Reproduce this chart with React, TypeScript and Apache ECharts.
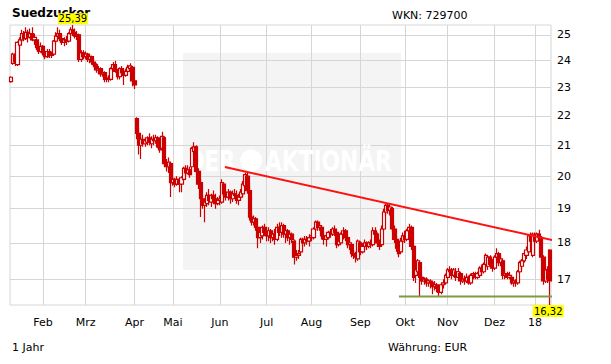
import React, { useEffect, useRef } from "react";
import * as echarts from "echarts";

// ---------- data ----------
const title = "Suedzucker";
const wkn = "WKN: 729700";
const period = "1 Jahr";
const currency = "Währung: EUR";

const monthLabels = ["Jan", "Feb", "Mrz", "Apr", "Mai", "Jun", "Jul", "Aug", "Sep", "Okt", "Nov", "Dez", "18"];
const tradingDays = [15, 20, 23, 18, 22, 22, 21, 23, 21, 20, 22, 19, 8];
const yTicks = [17, 18, 19, 20, 21, 22, 23, 24, 25];

// [open, close, low, high]
const ohlc: number[][] = [
  [23.22, 23.38, 23.18, 23.42], [23.9, 24.25, 23.85, 24.3], [24.2, 23.95, 23.8, 24.3], [23.85, 24.7, 23.8, 24.75],
  [24.6, 24.8, 24.45, 24.9], [24.8, 25.05, 24.7, 25.2], [25.0, 24.85, 24.75, 25.15], [24.85, 25.1, 24.8, 25.3],
  [25.1, 24.9, 24.7, 25.2], [24.9, 25.05, 24.85, 25.25], [25.05, 24.8, 24.75, 25.3], [24.8, 24.9, 24.6, 25.05],
  [24.8, 24.5, 24.4, 24.85], [24.5, 24.35, 24.25, 24.65], [24.35, 24.55, 24.3, 24.7],
  // Feb
  [24.55, 24.3, 24.2, 24.6], [24.3, 24.15, 24.05, 24.4], [24.15, 24.35, 24.1, 24.45], [24.35, 24.2, 24.1, 24.45],
  [24.2, 24.25, 24.1, 24.35], [24.25, 24.75, 24.2, 24.8], [24.75, 24.95, 24.65, 25.1], [24.95, 25.05, 24.8, 25.3],
  [25.05, 24.85, 24.75, 25.2], [24.85, 24.7, 24.6, 25.0], [24.7, 24.8, 24.55, 24.9], [24.8, 24.75, 24.6, 24.95],
  [24.75, 25.05, 24.7, 25.1], [25.05, 25.2, 25.0, 25.3], [25.2, 25.1, 24.95, 25.39], [25.1, 24.95, 24.85, 25.25],
  [24.95, 25.0, 24.8, 25.15], [25.0, 24.05, 23.95, 25.05], [24.05, 24.3, 23.95, 24.4], [24.3, 24.15, 24.05, 24.4],
  // Mrz
  [24.15, 24.25, 24.05, 24.35], [24.25, 24.05, 23.95, 24.3], [24.05, 24.15, 23.9, 24.25], [24.15, 23.95, 23.85, 24.2],
  [23.95, 23.85, 23.75, 24.05], [23.85, 23.65, 23.55, 23.9], [23.65, 23.7, 23.5, 23.8], [23.7, 23.5, 23.4, 23.75],
  [23.5, 23.55, 23.4, 23.65], [23.55, 23.3, 23.2, 23.6], [23.3, 23.35, 23.2, 23.45], [23.35, 23.3, 23.2, 23.45],
  [23.3, 23.7, 23.25, 23.75], [23.7, 23.85, 23.6, 23.95], [23.85, 23.6, 23.55, 24.0], [23.6, 23.4, 23.3, 23.7],
  [23.4, 23.7, 23.3, 23.75], [23.7, 23.55, 23.45, 23.8], [23.55, 23.45, 23.1, 23.65], [23.45, 23.6, 23.4, 23.7],
  [23.6, 23.75, 23.55, 23.85], [23.7, 23.8, 23.6, 23.9], [23.75, 23.25, 23.05, 23.8],
  // Apr
  [23.25, 23.1, 22.95, 23.3], [21.9, 21.4, 21.2, 21.95], [21.4, 21.0, 20.7, 21.6], [21.0, 21.2, 20.55, 21.3],
  [21.2, 21.05, 20.95, 21.35], [21.05, 21.15, 20.95, 21.25], [21.1, 21.25, 21.0, 21.3], [21.25, 21.1, 21.0, 21.4],
  [21.05, 21.2, 20.9, 21.3], [21.2, 21.15, 21.0, 21.35], [21.15, 21.25, 21.05, 21.35], [21.25, 20.95, 20.9, 21.3],
  [20.95, 20.85, 20.75, 21.05], [20.9, 21.3, 20.85, 21.45], [21.25, 20.4, 20.3, 21.3], [20.4, 20.3, 20.15, 20.55],
  [20.3, 20.45, 20.1, 20.6], [20.4, 19.8, 19.35, 20.45],
  // Mai
  [19.8, 19.9, 19.7, 20.0], [19.9, 19.75, 19.65, 19.95], [19.75, 19.9, 19.7, 20.0], [19.9, 19.75, 19.5, 19.95],
  [19.75, 19.95, 19.5, 20.0], [19.9, 20.25, 19.85, 20.3], [20.25, 20.1, 20.0, 20.35], [20.1, 20.2, 20.05, 20.35],
  [20.2, 20.05, 19.95, 20.3], [20.3, 20.9, 20.2, 20.95], [20.8, 20.95, 20.7, 21.1], [20.95, 20.15, 20.05, 21.0],
  [20.15, 19.75, 19.6, 20.25], [19.8, 19.3, 18.75, 19.9], [19.3, 19.1, 19.0, 19.4], [19.1, 19.2, 18.6, 19.3],
  [19.15, 19.4, 19.05, 19.5], [19.4, 19.25, 19.1, 19.6], [19.2, 19.4, 19.05, 19.45], [19.4, 19.3, 19.2, 19.55],
  [19.3, 19.15, 19.0, 19.45], [19.15, 19.25, 19.1, 19.35],
  // Jun
  [19.25, 19.3, 19.1, 19.4], [19.2, 19.8, 19.15, 19.9], [19.75, 19.45, 19.35, 19.8], [19.45, 19.35, 19.25, 19.55],
  [19.35, 19.5, 19.25, 19.6], [19.5, 19.3, 19.15, 19.55], [19.3, 19.45, 19.2, 19.55], [19.45, 19.4, 19.3, 19.6],
  [19.4, 19.25, 19.15, 19.55], [19.25, 19.35, 19.1, 19.45], [19.35, 19.5, 19.25, 19.6], [19.45, 19.75, 19.35, 19.85],
  [19.7, 20.05, 19.65, 20.12], [20.0, 19.55, 19.45, 20.1], [19.55, 18.75, 18.65, 19.7], [18.75, 18.6, 18.5, 18.85],
  [18.6, 18.7, 18.5, 18.8], [18.7, 18.45, 18.35, 18.75], [18.45, 18.15, 17.85, 18.5], [18.15, 18.3, 18.0, 18.4],
  [18.2, 18.45, 18.1, 18.5], [18.45, 18.3, 18.2, 18.55],
  // Jul
  [18.3, 18.2, 18.05, 18.45], [18.2, 18.35, 18.05, 18.45], [18.35, 18.15, 18.0, 18.4], [18.15, 18.25, 18.05, 18.35],
  [18.25, 18.1, 17.95, 18.4], [18.1, 18.45, 18.05, 18.55], [18.45, 18.3, 18.2, 18.6], [18.3, 18.5, 18.15, 18.6],
  [18.5, 18.25, 18.15, 18.55], [18.25, 18.35, 18.0, 18.45], [18.35, 18.15, 18.05, 18.4], [18.15, 18.25, 17.95, 18.3],
  [18.25, 18.1, 18.0, 18.3], [18.05, 17.6, 17.4, 18.1], [17.6, 17.65, 17.5, 17.8], [17.65, 17.7, 17.55, 17.8],
  [17.75, 18.1, 17.7, 18.15], [18.1, 18.0, 17.9, 18.15], [18.0, 18.1, 17.9, 18.2], [18.1, 18.05, 17.95, 18.2],
  [18.05, 18.15, 17.9, 18.25],
  // Aug
  [18.15, 18.2, 18.05, 18.3], [18.15, 18.4, 18.1, 18.45], [18.4, 18.6, 18.35, 18.65], [18.6, 18.45, 18.35, 18.65],
  [18.45, 18.5, 18.35, 18.6], [18.45, 18.2, 18.1, 18.5], [18.2, 18.1, 17.95, 18.3], [18.1, 18.2, 17.9, 18.25],
  [18.15, 18.3, 18.1, 18.35], [18.3, 18.25, 18.15, 18.4], [18.25, 18.4, 18.2, 18.45], [18.4, 18.3, 18.2, 18.5],
  [18.3, 17.95, 17.85, 18.35], [17.95, 18.05, 17.9, 18.15], [18.0, 18.25, 17.95, 18.3], [18.25, 18.35, 18.1, 18.45],
  [18.35, 18.15, 18.05, 18.4], [18.15, 17.95, 17.85, 18.2], [17.95, 18.0, 17.8, 18.1], [17.95, 17.7, 17.6, 18.0],
  [17.7, 17.65, 17.55, 17.8], [17.65, 17.6, 17.45, 17.75], [17.55, 18.05, 17.5, 18.1],
  // Sep
  [18.0, 17.75, 17.65, 18.05], [17.75, 17.9, 17.7, 18.0], [17.9, 18.0, 17.8, 18.1], [18.0, 17.9, 17.8, 18.05],
  [17.9, 18.0, 17.85, 18.05], [18.0, 17.95, 17.85, 18.1], [17.95, 18.35, 17.9, 18.45], [18.35, 18.25, 18.15, 18.45],
  [18.25, 18.0, 17.9, 18.3], [18.0, 17.9, 17.8, 18.1], [17.95, 18.4, 17.9, 18.5], [18.4, 18.9, 18.35, 19.0],
  [18.9, 19.1, 18.8, 19.15], [19.1, 18.95, 18.85, 19.17], [18.95, 19.05, 18.8, 19.15], [19.0, 18.4, 18.3, 19.05],
  [18.4, 18.1, 18.0, 18.5], [18.1, 17.85, 17.75, 18.2], [17.85, 17.7, 17.6, 17.95], [17.75, 18.05, 17.7, 18.15],
  [18.05, 18.2, 18.0, 18.3],
  // Okt
  [18.2, 18.1, 18.0, 18.35], [18.1, 18.35, 18.05, 18.4], [18.35, 18.45, 18.25, 18.55], [18.45, 17.9, 17.8, 18.5],
  [17.9, 17.05, 16.95, 17.95], [17.1, 17.25, 16.9, 17.5], [17.2, 17.5, 17.1, 17.55], [17.45, 17.05, 16.55, 17.5],
  [17.05, 16.95, 16.85, 17.15], [16.95, 17.0, 16.85, 17.05], [17.0, 16.9, 16.8, 17.05], [16.9, 16.95, 16.8, 17.0],
  [16.95, 16.9, 16.75, 17.0], [16.9, 16.8, 16.6, 16.95], [16.8, 16.85, 16.7, 16.95], [16.85, 16.75, 16.65, 16.9],
  [16.75, 16.65, 16.55, 16.8], [16.65, 16.85, 16.6, 16.9], [16.85, 16.9, 16.75, 17.0], [16.9, 17.1, 16.85, 17.15],
  // Nov
  [17.05, 17.25, 17.0, 17.3], [17.25, 17.2, 17.1, 17.35], [17.2, 17.1, 17.0, 17.3], [17.1, 17.25, 17.05, 17.3],
  [17.2, 17.05, 16.95, 17.3], [17.05, 17.2, 17.0, 17.3], [17.15, 16.95, 16.85, 17.2], [16.95, 17.0, 16.9, 17.05],
  [17.0, 16.95, 16.85, 17.1], [16.95, 17.05, 16.9, 17.15], [17.05, 16.9, 16.85, 17.1], [16.9, 17.1, 16.85, 17.15],
  [17.1, 17.15, 17.0, 17.2], [17.15, 17.05, 17.0, 17.2], [17.05, 17.15, 17.0, 17.2], [17.1, 17.3, 17.05, 17.35],
  [17.3, 17.2, 17.1, 17.4], [17.2, 17.4, 17.15, 17.45], [17.4, 17.65, 17.3, 17.7], [17.35, 17.6, 17.25, 17.65],
  [17.6, 17.4, 17.3, 17.65], [17.4, 17.3, 17.2, 17.55],
  // Dez
  [17.3, 17.6, 17.25, 17.65], [17.6, 17.7, 17.5, 17.85], [17.7, 17.45, 17.35, 17.75], [17.45, 17.55, 17.35, 17.65],
  [17.5, 17.1, 17.0, 17.55], [17.1, 17.15, 17.0, 17.25], [17.15, 17.05, 17.0, 17.2], [17.05, 17.1, 17.0, 17.2],
  [17.05, 16.9, 16.85, 17.1], [16.9, 16.95, 16.8, 17.0], [16.95, 16.9, 16.8, 17.0], [16.9, 17.2, 16.85, 17.25],
  [17.2, 17.45, 17.15, 17.5], [17.35, 17.5, 17.25, 17.55], [17.5, 17.7, 17.45, 17.75], [17.65, 17.8, 17.55, 17.9],
  [17.75, 18.2, 17.7, 18.25], [18.2, 18.05, 17.9, 18.3], [17.65, 18.25, 17.6, 18.3],
  // Jan 18
  [18.2, 18.05, 17.95, 18.3], [18.05, 18.25, 18.0, 18.3], [18.25, 18.15, 18.05, 18.38], [18.15, 17.6, 17.5, 18.2],
  [17.6, 16.95, 16.85, 17.65], [16.95, 17.25, 16.9, 17.3], [17.25, 17.0, 16.9, 17.35], [17.8, 16.95, 16.32, 17.82],
];

// trend lines drawn on the chart: [day index, price]
const resistanceLine = [[100.4, 20.29], [256.3, 18.05]];
const supportLine = [[182.1, 16.54], [256.3, 16.54]];

// ---------- derived ----------
const categories: string[] = [];
const monthStarts: number[] = [];
monthLabels.forEach((m, mi) => {
  for (let k = 0; k < tradingDays[mi]; k++) {
    if (k === 0 && mi > 0) monthStarts.push(categories.length);
    categories.push(`${m}-${k}`);
  }
});

const lows = ohlc.map((d) => d[2]);
const highs = ohlc.map((d) => d[3]);
const lowMin = Math.min(...lows);
const highMax = Math.max(...highs);
const minIdx = lows.indexOf(lowMin);
const maxIdx = highs.indexOf(highMax);
const fmt = (v: number) => v.toFixed(2).replace(".", ",");

const FONT = '"DejaVu Sans", Verdana, sans-serif';
const GRID_COLOR = "#d6d6d6";
const CANDLE = "#cc0000";

export default function App() {
  const ref = useRef<HTMLDivElement>(null);

  useEffect(() => {
    if (!ref.current) return;
    const chart = echarts.init(ref.current, undefined, { renderer: "svg" });

    const gridLines: any[] = [
      ...yTicks.map((t) => ({ yAxis: t, name: String(t) })),
      ...monthStarts.map((idx) => ({ xAxis: categories[idx], name: "", label: { show: false } })),
    ];

    const wmFont = 'bold 29px "DejaVu Sans", sans-serif';

    chart.setOption({
      animation: false,
      backgroundColor: "#ffffff",
      grid: {
        left: 10,
        right: 60,
        top: 25,
        bottom: 59,
        show: true,
        borderColor: GRID_COLOR,
        borderWidth: 1,
        backgroundColor: "transparent",
      },
      xAxis: [
        {
          type: "category",
          data: categories,
          boundaryGap: true,
          axisLine: { show: false },
          axisTick: { show: false },
          splitLine: { show: false },
          axisLabel: {
            interval: (idx: number) => monthStarts.includes(idx),
            formatter: (v: string) => v.split("-")[0],
            color: "#000",
            fontSize: 11,
            fontFamily: FONT,
            margin: 12,
          },
        },
        {
          type: "value",
          min: -0.5,
          max: categories.length - 0.5,
          show: false,
        },
      ],
      yAxis: {
        type: "log",
        logBase: 10,
        min: lowMin,
        max: highMax,
        axisLine: { show: false },
        axisTick: { show: false },
        axisLabel: { show: false },
        splitLine: { show: false },
      },
      graphic: [
        { type: "rect", shape: { x: 183, y: 53, width: 218, height: 217 }, style: { fill: "#f4f4f4" }, z: 0, silent: true },
        { type: "text", x: 187, y: 161, scaleX: 0.73, style: { text: "DER", font: wmFont, fill: "#ffffff", verticalAlign: "middle" }, z: 1.5, silent: true },
        { type: "circle", shape: { cx: 251, cy: 160.5, r: 11 }, style: { fill: "#ffffff" }, z: 1.5, silent: true },
        { type: "text", x: 265, y: 161, scaleX: 0.75, style: { text: "AKTIONÄR", font: wmFont, fill: "#ffffff", verticalAlign: "middle" }, z: 1.5, silent: true },
        { type: "text", x: 12, y: 13, style: { text: title, font: `bold 12px ${FONT}`, fill: "#000", verticalAlign: "middle" }, z: 3 },
        { type: "text", x: 392, y: 15, style: { text: wkn, font: `11px ${FONT}`, fill: "#000", verticalAlign: "middle" }, z: 3 },
        { type: "text", x: 12, y: 347.5, style: { text: period, font: `11px ${FONT}`, fill: "#000", verticalAlign: "middle" }, z: 3 },
        { type: "text", x: 388, y: 347.5, style: { text: currency, font: `11px ${FONT}`, fill: "#000", verticalAlign: "middle" }, z: 3 },
      ],
      series: [
        {
          type: "candlestick",
          xAxisIndex: 0,
          yAxisIndex: 0,
          data: ohlc,
          barWidth: 3.6,
          z: 2,
          silent: true,
          itemStyle: {
            color: "#ffffff",
            color0: CANDLE,
            borderColor: CANDLE,
            borderColor0: CANDLE,
            borderWidth: 1.2,
          },
          markLine: {
            z: 1,
            silent: true,
            symbol: ["none", "none"],
            precision: 2,
            lineStyle: { color: GRID_COLOR, width: 1, type: "solid" },
            label: {
              show: true,
              position: "end",
              formatter: "{b}",
              color: "#000",
              fontSize: 11,
              fontFamily: FONT,
              distance: 6,
            },
            emphasis: { disabled: true },
            data: gridLines,
          },
          markPoint: {
            z: 6,
            silent: true,
            data: [
              {
                coord: [categories[maxIdx], highMax],
                symbol: "rect",
                symbolSize: [30, 11],
                symbolOffset: [0, -6.3],
                itemStyle: { color: "#ffff00" },
                label: { show: true, position: "inside", formatter: fmt(highMax), color: "#000", fontSize: 10, fontFamily: FONT },
              },
              {
                coord: [categories[minIdx], lowMin],
                symbol: "rect",
                symbolSize: [31, 12],
                symbolOffset: [-1.7, 6],
                itemStyle: { color: "#ffff00" },
                label: { show: true, position: "inside", formatter: fmt(lowMin), color: "#000", fontSize: 10, fontFamily: FONT },
              },
            ],
          },
        },
        {
          type: "line",
          xAxisIndex: 1,
          yAxisIndex: 0,
          data: resistanceLine,
          symbol: "none",
          clip: false,
          silent: true,
          z: 4,
          lineStyle: { color: "#ff1010", width: 2 },
        },
        {
          type: "line",
          xAxisIndex: 1,
          yAxisIndex: 0,
          data: supportLine,
          symbol: "none",
          clip: false,
          silent: true,
          z: 4,
          lineStyle: { color: "#7d9b42", width: 2 },
        },
      ],
    });

    return () => chart.dispose();
  }, []);

  return (
    <div
      ref={ref}
      style={{ position: "absolute", left: 0, top: 0, width: 611, height: 364, background: "#fff" }}
    />
  );
}
